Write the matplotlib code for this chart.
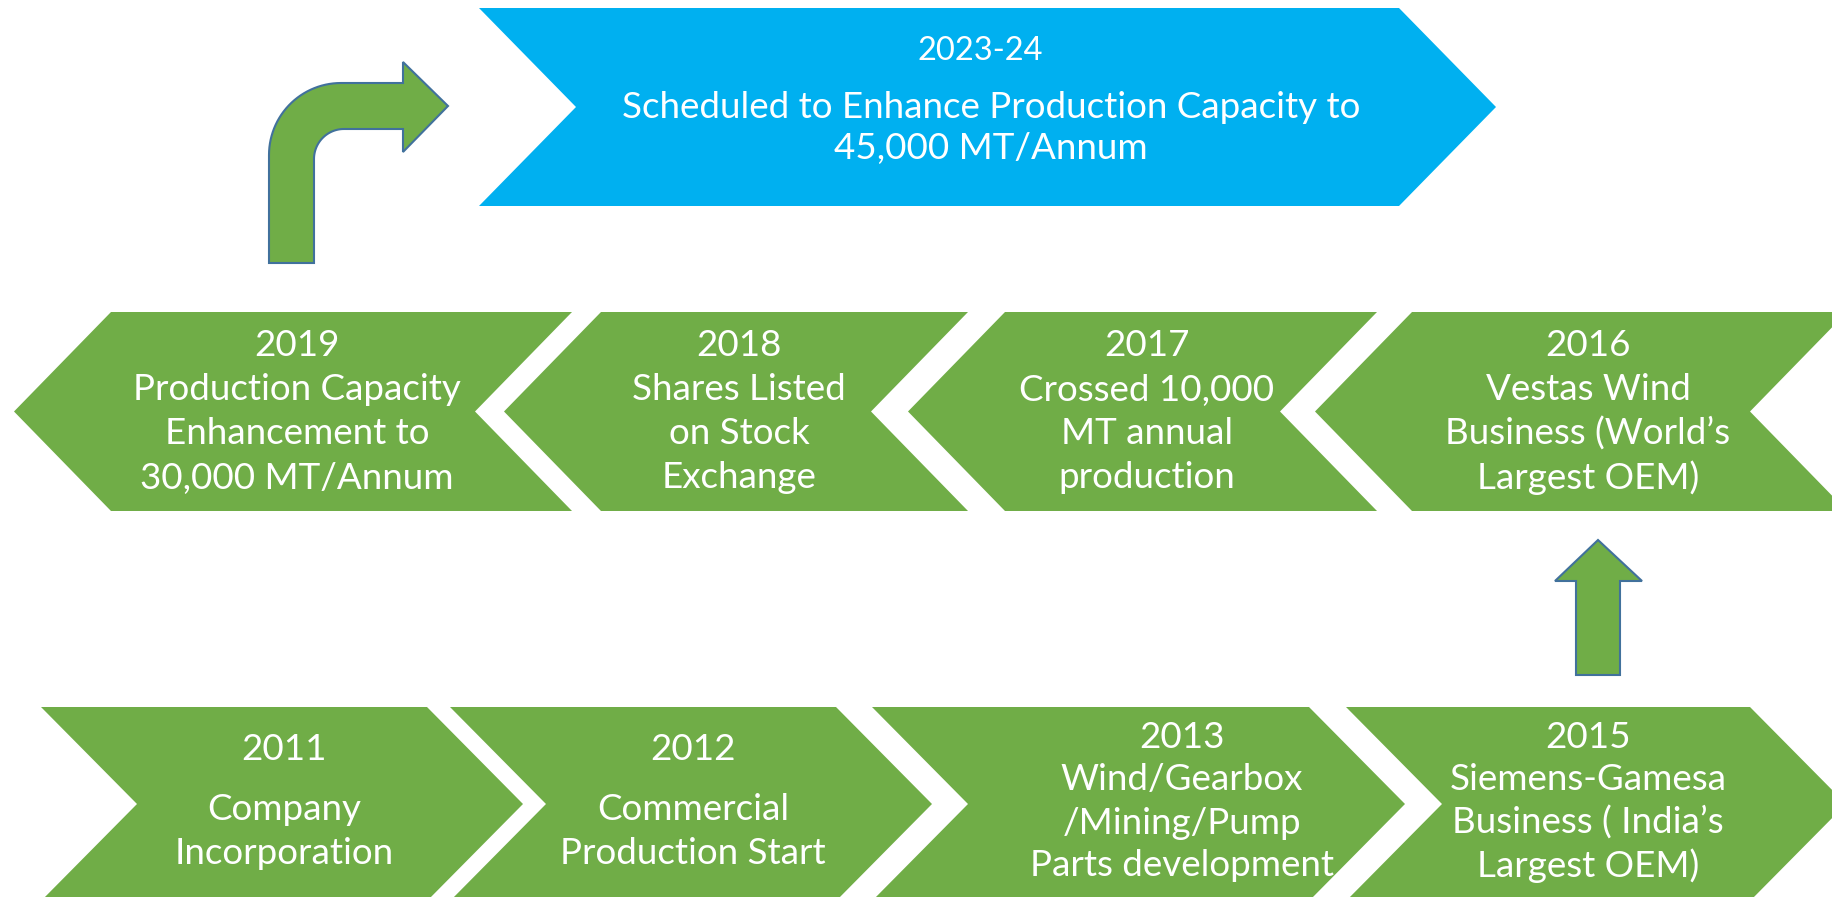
import numpy as np
import matplotlib
matplotlib.use("Agg")
import matplotlib.pyplot as plt
from matplotlib.patches import Polygon

plt.rcParams['font.family'] = ['Lato', 'DejaVu Sans']

GREEN = "#70AD47"
BLUE = "#00B0F0"
EDGE = "#41719C"

# milestones, bottom row (left to right)
bottom_years = ["2011", "2012", "2013", "2015"]
bottom_texts = [
    ["Company", "Incorporation"],
    ["Commercial", "Production Start"],
    ["Wind/Gearbox", "/Mining/Pump", "Parts development"],
    ["Siemens-Gamesa", "Business ( India\u2019s", "Largest OEM)"],
]

# milestones, middle row (left to right, arrows point left)
middle_years = ["2019", "2018", "2017", "2016"]
middle_texts = [
    ["Production Capacity", "Enhancement to", "30,000 MT/Annum"],
    ["Shares Listed", "on Stock", "Exchange"],
    ["Crossed 10,000", "MT annual", "production"],
    ["Vestas Wind", "Business (World\u2019s", "Largest OEM)"],
]

# planned step
top_year = "2023-24"
top_text = ["Scheduled to Enhance Production Capacity to", "45,000 MT/Annum"]

W, H = 1833, 897
fig = plt.figure(figsize=(W / 100, H / 100), dpi=100)
ax = fig.add_axes([0, 0, 1, 1])
ax.set_xlim(0, W)
ax.set_ylim(H, 0)
ax.axis("off")

FS = 26.5


def right_chevron(x0, x1, top, bot, depth, color):
    mid = (top + bot) / 2
    pts = [(x0, top), (x1, top), (x1 + depth, mid), (x1, bot), (x0, bot), (x0 + depth, mid)]
    ax.add_patch(Polygon(pts, closed=True, facecolor=color, edgecolor="none"))


def left_chevron(tip, x1, top, bot, depth, color):
    mid = (top + bot) / 2
    pts = [(tip, mid), (tip + depth, top), (x1, top), (x1 - depth, mid), (x1, bot), (tip + depth, bot)]
    ax.add_patch(Polygon(pts, closed=True, facecolor=color, edgecolor="none"))


def lines(cx, ys, txts, size=FS):
    for y, t in zip(ys, txts):
        ax.text(cx, y, t, ha="center", va="center", color="white", fontsize=size)


# blue planned chevron
right_chevron(479, 1399, 8, 206, 97, BLUE)
ax.text(980, 51, top_year, ha="center", va="center", color="white", fontsize=23.5)
lines(991, [107, 149], top_text)

# middle row
mid_geo = [(14, 572), (504, 968), (908, 1377), (1315, 1847)]
mid_cx = [297, 739, 1147, 1588]
for (tip, x1), cx, yr, txt in zip(mid_geo, mid_cx, middle_years, middle_texts):
    left_chevron(tip, x1, 312, 511, 97, GREEN)
    lines(cx, [346, 390, 434, 478], [yr] + txt)

# bottom row
bot_geo = [(41, 427), (450, 836), (872, 1309), (1346, 1750)]
bot_cx = [284, 693, 1182, 1588]
for (x0, x1), cx, yr, txt in zip(bot_geo, bot_cx, bottom_years, bottom_texts):
    right_chevron(x0, x1, 707, 901, 96, GREEN)
    if len(txt) == 2:
        lines(cx, [749, 810, 854], [yr] + txt)
    else:
        lines(cx, [737, 780, 823, 866], [yr] + txt)

# up arrow 2015 -> 2016
up = [(1576, 675), (1576, 581), (1555, 581), (1598, 540), (1642, 581), (1620, 581), (1620, 675)]
ax.add_patch(Polygon(up, closed=True, facecolor=GREEN, edgecolor=EDGE, linewidth=1.5))

# bent arrow 2019 -> 2023-24
Ro, Ri = 72, 30
sx0, sx1, bottom = 269, 314, 263
ay0, ay1 = 83, 129
th = np.linspace(np.pi, 1.5 * np.pi, 30)
outer = [(sx0 + Ro + Ro * np.cos(t), ay0 + Ro + Ro * np.sin(t)) for t in th]
inner = [(sx1 + Ri + Ri * np.cos(t), ay1 + Ri + Ri * np.sin(t)) for t in th[::-1]]
bent = ([(sx0, bottom)] + outer + [(403, ay0), (403, 62), (448, 106), (403, 152), (403, ay1)]
        + inner + [(sx1, bottom)])
ax.add_patch(Polygon(bent, closed=True, facecolor=GREEN, edgecolor=EDGE, linewidth=1.5))

fig.savefig("out.png", dpi=100)
